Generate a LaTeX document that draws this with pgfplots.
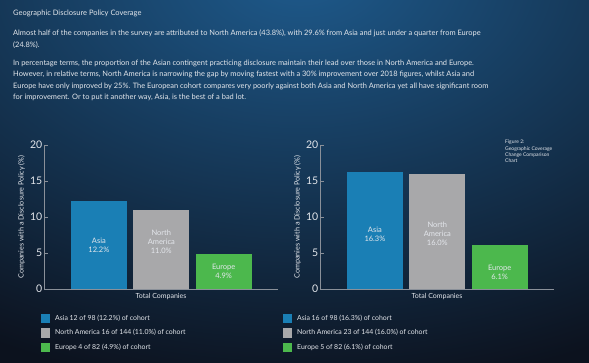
\documentclass[border=0pt]{standalone}
\usepackage{fontspec}
\setmainfont{Lato}
\usepackage{pgfplots}
\pgfplotsset{compat=1.18}
\definecolor{asia}{HTML}{1A7FB5}
\definecolor{nam}{HTML}{A8A8AA}
\definecolor{eur}{HTML}{4CB84D}
\definecolor{bgdark}{HTML}{0C121E}
\definecolor{bgblue}{HTML}{1E5A8C}
\definecolor{txt}{HTML}{E4E7EC}
\definecolor{axc}{HTML}{8A9099}
\newcommand\legfont{\fontsize{6.9bp}{7bp}\selectfont}
\newcommand\labfont{\fontsize{7bp}{7bp}\selectfont}
\newcommand\ylabfont{\fontsize{7.2bp}{7.2bp}\selectfont}
\newcommand\barfont{\fontsize{7.5bp}{9bp}\selectfont}
\newcommand\tickfont{\fontsize{10.5bp}{10.5bp}\selectfont}
\tikzset{barlabel/.style={text=txt, font=\barfont, align=center}}
\pgfplotsset{
  regionaxis/.style={
    scale only axis, width=234bp, height=144bp,
    anchor=south west,
    xmin=-0.88, xmax=2.87, ymin=0, ymax=20,
    ytick={0,5,10,15,20}, xtick=\empty,
    axis x line*=bottom, axis y line*=left,
    axis line style={axc,-, line width=0.6bp},
    major tick style={axc, line width=0.6bp},
    tick align=inside, major tick length=4bp,
    /pgf/number format/assume math mode=true,
    y tick label style={font=\tickfont, text=txt, inner sep=1.5bp},
    ylabel={Companies with a Disclosure Policy (\%)},
    every axis y label/.style={at={(axis description cs:0,0.5)}, rotate=90, anchor=south, yshift=19bp, font=\ylabfont, text=txt, inner sep=0pt},
    xlabel={Total Companies},
    every axis x label/.style={at={(axis description cs:0.5,0)}, anchor=north, yshift=-4.5bp, font=\labfont, text=txt, inner sep=0pt},
    legend image code/.code={\fill[##1] (0bp,-4.5bp) rectangle (9bp,4.5bp);},
    legend cell align=left,
    legend style={at={(axis description cs:0,0)}, anchor=north west, yshift=-25bp,
      draw=none, fill=none, text=txt, font=\legfont,
      inner sep=0pt, row sep=5.3bp, column sep=4bp, nodes={inner sep=1bp, text=txt, font=\legfont}},
  }
}
\begin{document}
\begin{tikzpicture}
\fill[bgdark] (0bp,0bp) rectangle (589bp,363bp);
\begin{scope}
\clip (0bp,0bp) rectangle (589bp,363bp);
\shade[inner color=bgblue, outer color=bgdark] (300bp,390bp) ellipse (640bp and 420bp);
\end{scope}
\node[anchor=north west, inner sep=0, text=txt, font=\fontsize{7.5bp}{8bp}\selectfont] at (13bp,353bp) {Geographic Disclosure Policy Coverage};
\node[anchor=north west, inner sep=0, text=txt, align=left, font=\fontsize{7.45bp}{11.6bp}\selectfont] at (13bp,333bp)
{Almost half of the companies in the survey are attributed to North America (43.8\%), with 29.6\% from Asia and just under a quarter from Europe\\(24.8\%).};
\node[anchor=north west, inner sep=0, text=txt, align=left, font=\fontsize{7.45bp}{11.3bp}\selectfont] at (13bp,303bp)
{In percentage terms, the proportion of the Asian contingent practicing disclosure maintain their lead over those in North America and Europe.\\
However, in relative terms, North America is narrowing the gap by moving fastest with a 30\% improvement over 2018 figures, whilst Asia and\\
Europe have only improved by 25\%. The European cohort compares very poorly against both Asia and North America yet all have significant room\\
for improvement. Or to put it another way, Asia, is the best of a bad lot.};
\node[anchor=north west, inner sep=0, text=txt, align=left, font=\fontsize{5bp}{6.2bp}\selectfont] at (505bp,223bp)
{Figure 2:\\Geographic Coverage\\Change Comparison\\Chart};

\begin{axis}[regionaxis, at={(44bp,74bp)}, legend style={xshift=-3bp}]
\addplot[ybar, bar width=0.9, fill=asia, draw=none] coordinates {(0,12.2)};
\addplot[ybar, bar width=0.9, fill=nam, draw=none] coordinates {(1,11.0)};
\addplot[ybar, bar width=0.9, fill=eur, draw=none] coordinates {(2,4.9)};
\legend{Asia 12 of 98 (12.2\%) of cohort, North America 16 of 144 (11.0\%) of cohort, Europe 4 of 82 (4.9\%) of cohort}
\node[barlabel] at (axis cs:0,6.1) {Asia\\12.2\%};
\node[barlabel] at (axis cs:1,6.6) {North\\America\\11.0\%};
\node[barlabel] at (axis cs:2,2.4) {Europe\\4.9\%};
\end{axis}

\begin{axis}[regionaxis, at={(320bp,74bp)}, legend style={xshift=-37bp}]
\addplot[ybar, bar width=0.9, fill=asia, draw=none] coordinates {(0,16.3)};
\addplot[ybar, bar width=0.9, fill=nam, draw=none] coordinates {(1,16.0)};
\addplot[ybar, bar width=0.9, fill=eur, draw=none] coordinates {(2,6.1)};
\legend{Asia 16 of 98 (16.3\%) of cohort, North America 23 of 144 (16.0\%) of cohort, Europe 5 of 82 (6.1\%) of cohort}
\node[barlabel] at (axis cs:0,7.6) {Asia\\16.3\%};
\node[barlabel] at (axis cs:1,7.7) {North\\America\\16.0\%};
\node[barlabel] at (axis cs:2,2.3) {Europe\\6.1\%};
\end{axis}
\end{tikzpicture}
\end{document}
